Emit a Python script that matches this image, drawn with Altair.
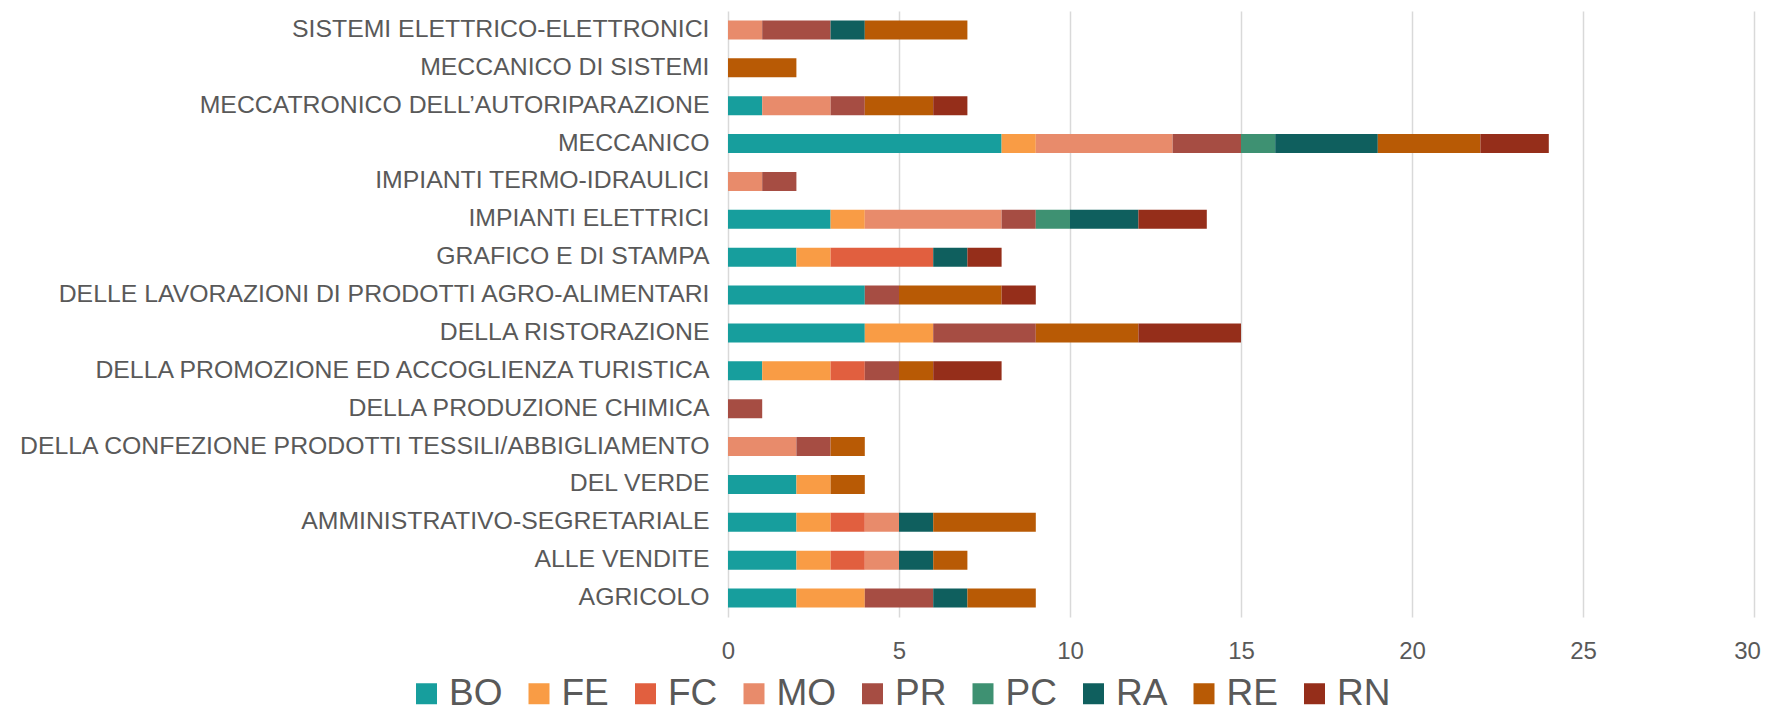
import altair as alt
import pandas as pd

categories = [
    "SISTEMI ELETTRICO-ELETTRONICI",
    "MECCANICO DI SISTEMI",
    "MECCATRONICO DELL\u2019AUTORIPARAZIONE",
    "MECCANICO",
    "IMPIANTI TERMO-IDRAULICI",
    "IMPIANTI ELETTRICI",
    "GRAFICO E DI STAMPA",
    "DELLE LAVORAZIONI DI PRODOTTI AGRO-ALIMENTARI",
    "DELLA RISTORAZIONE",
    "DELLA PROMOZIONE ED ACCOGLIENZA TURISTICA",
    "DELLA PRODUZIONE CHIMICA",
    "DELLA CONFEZIONE PRODOTTI TESSILI/ABBIGLIAMENTO",
    "DEL VERDE",
    "AMMINISTRATIVO-SEGRETARIALE",
    "ALLE VENDITE",
    "AGRICOLO",
]

series = ["BO", "FE", "FC", "MO", "PR", "PC", "RA", "RE", "RN"]
colors = ["#179E9D", "#F99C45", "#E15F3F", "#E88B6B", "#A64D43",
          "#3E9172", "#0F5F5E", "#B85A05", "#952E1A"]

BO = [0, 0, 1, 8, 0, 3, 2, 4, 4, 1, 0, 0, 2, 2, 2, 2]
FE = [0, 0, 0, 1, 0, 1, 1, 0, 2, 2, 0, 0, 1, 1, 1, 2]
FC = [0, 0, 0, 0, 0, 0, 3, 0, 0, 1, 0, 0, 0, 1, 1, 0]
MO = [1, 0, 2, 4, 1, 4, 0, 0, 0, 0, 0, 2, 0, 1, 1, 0]
PR = [2, 0, 1, 2, 1, 1, 0, 1, 3, 1, 1, 1, 0, 0, 0, 2]
PC = [0, 0, 0, 1, 0, 1, 0, 0, 0, 0, 0, 0, 0, 0, 0, 0]
RA = [1, 0, 0, 3, 0, 2, 1, 0, 0, 0, 0, 0, 0, 1, 1, 1]
RE = [3, 2, 2, 3, 0, 0, 0, 3, 3, 1, 0, 1, 1, 3, 1, 2]
RN = [0, 0, 1, 2, 0, 2, 1, 1, 3, 2, 0, 0, 0, 0, 0, 0]

x_ticks = [0, 5, 10, 15, 20, 25, 30]

values = {"BO": BO, "FE": FE, "FC": FC, "MO": MO, "PR": PR,
          "PC": PC, "RA": RA, "RE": RE, "RN": RN}

rows = []
for si, s in enumerate(series):
    for ci, c in enumerate(categories):
        v = values[s][ci]
        if v > 0:
            rows.append({"cat": c, "serie": s, "val": v, "ord": si})
df = pd.DataFrame(rows)

FONT = "Liberation Sans"
GREY = "#595959"

chart = alt.Chart(df).mark_bar(strokeWidth=0).encode(
    y=alt.Y("cat:N", sort=categories, title=None,
            scale=alt.Scale(domain=categories, paddingInner=0.5, paddingOuter=0.25),
            axis=alt.Axis(labelFont=FONT, labelFontSize=24.8, labelColor=GREY,
                          ticks=False, domain=False, labelPadding=19,
                          labelLimit=800, grid=False)),
    x=alt.X("val:Q", stack="zero", title=None,
            scale=alt.Scale(domain=[0, 30], nice=False),
            axis=alt.Axis(values=x_ticks, labelFont=FONT,
                          labelFontSize=24, labelColor=GREY, ticks=False,
                          domain=False, labelPadding=22, grid=True,
                          labelFlush=False, labelOverlap=False,
                          labelOffset={"condition": {"test": "datum.value === 30", "value": -7},
                                       "value": 0},
                          gridColor="#D9D9D9", gridWidth=1.5)),
    color=alt.Color("serie:N", sort=series,
                    scale=alt.Scale(domain=series, range=colors),
                    legend=alt.Legend(orient="none", legendX=-320, legendY=664,
                                      direction="horizontal", columns=9,
                                      title=None, symbolType="square",
                                      symbolSize=441, symbolStrokeWidth=0,
                                      symbolOpacity=1,
                                      labelFont=FONT, labelFontSize=37,
                                      labelColor=GREY, labelOffset=4,
                                      columnPadding=17.5, padding=0)),
    order=alt.Order("ord:Q"),
).properties(
    width=1026, height=606,
    background="white",
    padding={"left": 720, "top": 3, "right": 7, "bottom": 97},
    autosize=alt.AutoSizeParams(type="none"),
).configure_view(stroke=None)

chart.save("out.html", embed_options={"renderer": "svg", "actions": False})
